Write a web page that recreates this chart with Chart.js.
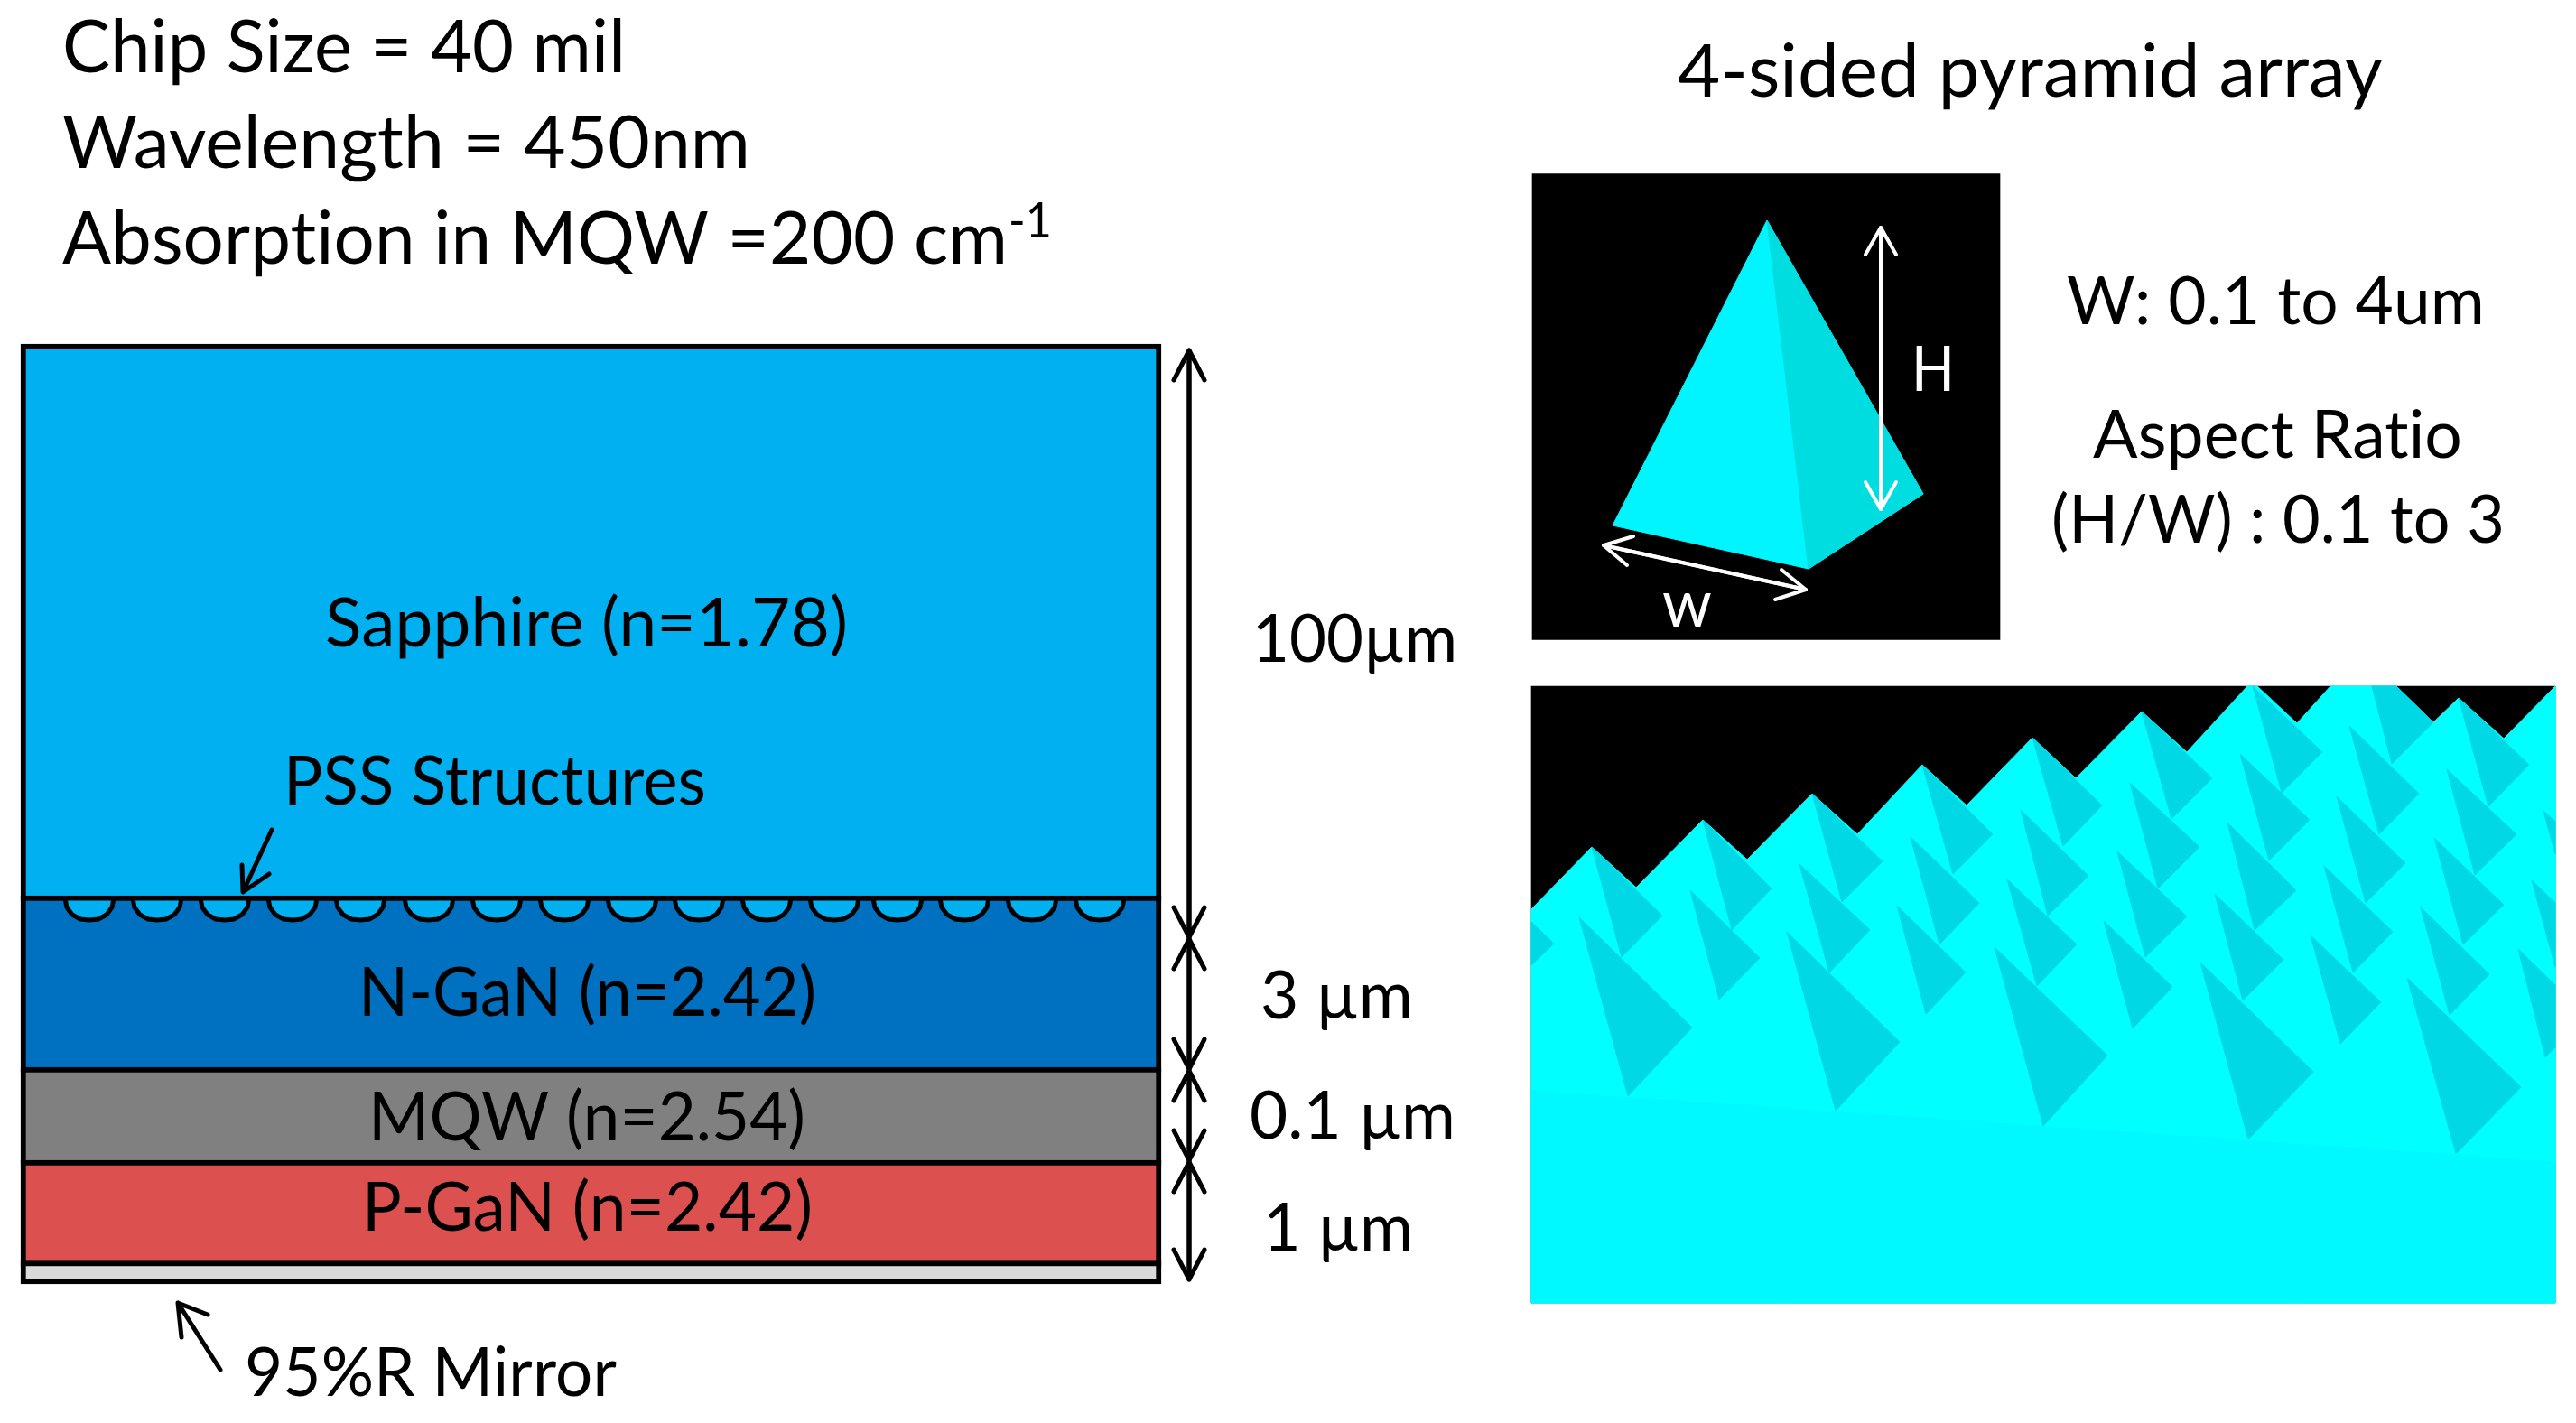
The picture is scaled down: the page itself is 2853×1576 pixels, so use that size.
<!DOCTYPE html>
<html>
<head>
<meta charset="utf-8">
<style>
  html, body { margin: 0; padding: 0; background: #fff; }
  canvas { display: block; }
</style>
<script src="https://cdn.jsdelivr.net/npm/chart.js@4/dist/chart.umd.js"></script>
</head>
<body>
<canvas id="chart" width="2853" height="1576"></canvas>
<script>
// layer stack, left diagram
var layerNames = ['Sapphire', 'N-GaN', 'MQW', 'P-GaN', 'Mirror'];
var layerTop = [381, 992, 1182, 1285, 1396.5];
var layerBottom = [998, 1188, 1291, 1402.5, 1422];
var layerColors = ['#00b0f0', '#0070c0', '#808080', '#dc5050', '#d9d9d9'];

// PSS bumps along the sapphire / N-GaN interface
var bumpCenters = [99, 174, 249, 324, 399, 475, 550, 625, 700, 774, 849, 924, 994, 1068, 1143, 1218];
var bumpDx = [-27, -25, -19, -10, 0, 10, 19, 25, 27, -27];
var bumpDepth = [0, 10, 18, 23, 24, 23, 18, 10, 0, 0];

// arrows: tail, tip, barb, tip, barb
var blackArrows = [
  [[1317, 1038], [1317, 388], [1300, 421], [1317, 388], [1334, 421]],
  [[1317, 388], [1317, 1038], [1300, 1005], [1317, 1038], [1334, 1005]],
  [[1317, 1184], [1317, 1040], [1300, 1073], [1317, 1040], [1334, 1073]],
  [[1317, 1040], [1317, 1184], [1300, 1151], [1317, 1184], [1334, 1151]],
  [[1317, 1285], [1317, 1186], [1300, 1219], [1317, 1186], [1334, 1219]],
  [[1317, 1186], [1317, 1285], [1300, 1252], [1317, 1285], [1334, 1252]],
  [[1317, 1417], [1317, 1287], [1300, 1320], [1317, 1287], [1334, 1320]],
  [[1317, 1287], [1317, 1417], [1300, 1384], [1317, 1417], [1334, 1384]],
  [[301, 919], [269, 988], [268, 958], [269, 988], [298, 968]],
  [[244, 1517], [197, 1443], [201, 1481], [197, 1443], [230, 1456]]
];
var whiteArrows = [
  [[2083, 564], [2083, 252], [2066, 282], [2083, 252], [2100, 282]],
  [[2083, 252], [2083, 564], [2066, 534], [2083, 564], [2100, 534]],
  [[2000, 653], [1776, 604], [1809, 594], [1776, 604], [1802, 626]],
  [[1776, 604], [2000, 653], [1973, 631], [2000, 653], [1966, 664]]
];

// single pyramid inset
var insetBox = [1697, 2215, 192.5, 708.5];
var pyramidOutline = [[1957, 244], [1786, 582], [2003, 630], [2130, 547], [1957, 244]];
var pyramidShade = [[1957, 244], [2003, 630], [2130, 547], [1957, 244]];

// pyramid array panel
var arrayBox = [1696, 2830, 760, 1443];
var arrayOutline = [
  [1696, 1007], [1763, 938], [1812, 983], [1886, 908], [1935, 952], [2007, 879], [2057, 924],
  [2129, 847], [2178, 892], [2251, 817], [2299, 862], [2372, 788], [2422, 833], [2489, 760],
  [2500, 760], [2544, 801], [2581, 760], [2654, 760], [2695, 800], [2723, 773], [2773, 818],
  [2830, 760], [2830, 1443], [1696, 1443], [1696, 1007]
];
var arrayFloor = [[1696, 1208], [2830, 1287], [2830, 1443], [1696, 1443], [1696, 1208]];
var arrayFaces = [
  [[1696, 1021], [1721, 1045], [1696, 1069]],
  [[1763, 938], [1796, 1060], [1841, 1014]],
  [[1886, 908], [1918, 1030], [1962, 984]],
  [[2007, 879], [2040, 999], [2085, 954]],
  [[2129, 847], [2163, 968], [2207, 924]],
  [[2251, 817], [2285, 937], [2328, 892]],
  [[2372, 788], [2405, 907], [2450, 862]],
  [[2495, 760], [2527, 878], [2572, 833]],
  [[2627, 760], [2654, 760], [2695, 800], [2649, 846]],
  [[2723, 773], [2756, 893], [2801, 847]],
  [[1872, 986], [1904, 1107], [1949, 1061]],
  [[1993, 957], [2026, 1077], [2071, 1030]],
  [[2116, 927], [2148, 1046], [2192, 1000]],
  [[2238, 897], [2268, 1014], [2313, 970]],
  [[2359, 867], [2390, 984], [2436, 938]],
  [[2481, 835], [2513, 953], [2558, 908]],
  [[2602, 804], [2635, 924], [2679, 879]],
  [[2710, 852], [2741, 969], [2787, 924]],
  [[2817, 898], [2830, 946], [2830, 910]],
  [[2101, 1003], [2133, 1123], [2177, 1077]],
  [[2223, 974], [2256, 1092], [2300, 1046]],
  [[2345, 943], [2376, 1060], [2422, 1015]],
  [[2467, 911], [2497, 1030], [2543, 986]],
  [[2588, 882], [2620, 1000], [2664, 956]],
  [[2696, 928], [2728, 1046], [2773, 1002]],
  [[2804, 975], [2830, 1071], [2830, 1000]],
  [[2330, 1020], [2362, 1139], [2406, 1093]],
  [[2453, 990], [2484, 1108], [2529, 1063]],
  [[2574, 959], [2606, 1077], [2650, 1032]],
  [[2681, 1005], [2713, 1124], [2757, 1079]],
  [[2559, 1036], [2592, 1156], [2637, 1110]],
  [[2789, 1051], [2819, 1171], [2830, 1160], [2830, 1091]],
  [[1749, 1016], [1803, 1214], [1874, 1138]],
  [[1979, 1032], [2033, 1230], [2104, 1154]],
  [[2209, 1049], [2263, 1247], [2334, 1169]],
  [[2437, 1066], [2490, 1262], [2562, 1187]],
  [[2666, 1083], [2720, 1278], [2792, 1204]]
];

// text
var labelText = ['Chip Size = 40 mil', 'Wavelength = 450nm', 'Absorption in MQW =200 cm', '-1',
  'Sapphire (n=1.78)', 'PSS Structures', 'N-GaN (n=2.42)', 'MQW (n=2.54)', 'P-GaN (n=2.42)', '95%R Mirror',
  '100µm', '3 µm', '0.1 µm', '1 µm',
  '4-sided pyramid array', 'W: 0.1 to 4um', 'Aspect Ratio', '(H/W) : 0.1 to 3', 'H', 'w'];
var labelX = [69, 69, 69, 1117, 360, 314, 397, 408, 401, 271, 1387, 1396, 1384, 1399, 1858, 2289, 2318, 2272, 2117, 1841];
var labelY = [80, 186, 292, 263, 716, 891, 1125, 1263, 1363, 1546, 733, 1128, 1261, 1385, 107, 359, 507, 601, 433, 694];
var labelRight = [693, 831, 1116, 1165, 939, 782, 904, 892, 900, 683, 1614, 1565, 1612, 1565, 2639, 2752, 2727, 2774, 2165, 1896];
var labelSize = [82, 82, 82, 54, 75, 75, 75, 75, 75, 75, 74, 74, 74, 74, 82, 74, 74, 74, 70, 74];
var labelColor = ['#000', '#000', '#000', '#000', '#000', '#000', '#000', '#000', '#000', '#000',
  '#000', '#000', '#000', '#000', '#000', '#000', '#000', '#000', '#fff', '#fff'];

function toPoints(list) {
  return list.map(function (p) { return { x: p[0], y: p[1] }; });
}

function closed(list) {
  return list.concat([list[0]]);
}

function polygon(list, color, order) {
  return {
    type: 'line', data: toPoints(list), order: order,
    fill: 'shape', backgroundColor: color, borderColor: color, borderWidth: 1,
    pointRadius: 0, tension: 0
  };
}

function polyline(list, color, width, order) {
  return {
    type: 'line', data: toPoints(list), order: order,
    fill: false, borderColor: color, borderWidth: width, borderCapStyle: 'round', borderJoinStyle: 'round',
    pointRadius: 0, tension: 0
  };
}

var datasets = [];

// panels are floating bars, drawn first
datasets.push({
  type: 'bar', order: 100, grouped: false, barThickness: insetBox[1] - insetBox[0], borderSkipped: false,
  backgroundColor: '#000',
  data: [{ x: (insetBox[0] + insetBox[1]) / 2, y: [insetBox[2], insetBox[3]] }]
});
datasets.push({
  type: 'bar', order: 99, grouped: false, barThickness: arrayBox[1] - arrayBox[0], borderSkipped: false,
  backgroundColor: '#000',
  data: [{ x: (arrayBox[0] + arrayBox[1]) / 2, y: [arrayBox[2], arrayBox[3]] }]
});
datasets.push({
  type: 'bar', order: 98, grouped: false, barThickness: 1263, borderSkipped: false,
  label: 'layers', backgroundColor: layerColors, borderColor: '#000', borderWidth: 6,
  data: layerNames.map(function (name, i) { return { x: 654.5, y: [layerTop[i], layerBottom[i]] }; })
});

bumpCenters.forEach(function (c) {
  var pts = bumpDx.map(function (dx, i) { return [c + dx, 995 + bumpDepth[i]]; });
  datasets.push({
    type: 'line', data: toPoints(pts), order: 90,
    fill: 'shape', backgroundColor: '#00b0f0', borderColor: '#000', borderWidth: 5,
    pointRadius: 0, tension: 0
  });
});

datasets.push(polygon(arrayOutline, '#00ffff', 80));
datasets.push(polygon(arrayFloor, '#00f8ff', 79));
arrayFaces.forEach(function (f) {
  datasets.push(polygon(closed(f), '#00d8e6', 78));
});

datasets.push(polygon(pyramidOutline, '#00f5ff', 70));
datasets.push(polygon(pyramidShade, '#00dde0', 69));

blackArrows.forEach(function (a) {
  datasets.push(polyline(a, '#000', 5, 60));
});
whiteArrows.forEach(function (a) {
  datasets.push(polyline(a, '#fff', 4, 59));
});

var textPlugin = {
  id: 'diagramText',
  afterDatasetsDraw: function (chart) {
    var ctx = chart.ctx;
    var x = chart.scales.x;
    var y = chart.scales.y;
    ctx.save();
    ctx.textAlign = 'left';
    ctx.textBaseline = 'alphabetic';
    ctx.letterSpacing = '0.1px'; // keeps Lato's "ti" ligature off
    labelText.forEach(function (t, i) {
      ctx.font = labelSize[i] + 'px Lato';
      ctx.fillStyle = labelColor[i];
      var px = x.getPixelForValue(labelX[i]);
      var w = x.getPixelForValue(labelRight[i]) - px;
      ctx.fillText(t, px, y.getPixelForValue(labelY[i]), w);
    });
    ctx.restore();
  }
};

var ctx = document.getElementById('chart').getContext('2d');
var chart = new Chart(ctx, {
  type: 'bar',
  data: { datasets: datasets },
  plugins: [textPlugin],
  options: {
    responsive: false,
    animation: false,
    layout: { padding: 0 },
    plugins: { legend: { display: false }, tooltip: { enabled: false }, title: { display: false } },
    scales: {
      x: { type: 'linear', min: 0, max: 2853, display: false, offset: false },
      y: { type: 'linear', min: 0, max: 1576, reverse: true, display: false }
    }
  }
});
</script>
</body>
</html>
